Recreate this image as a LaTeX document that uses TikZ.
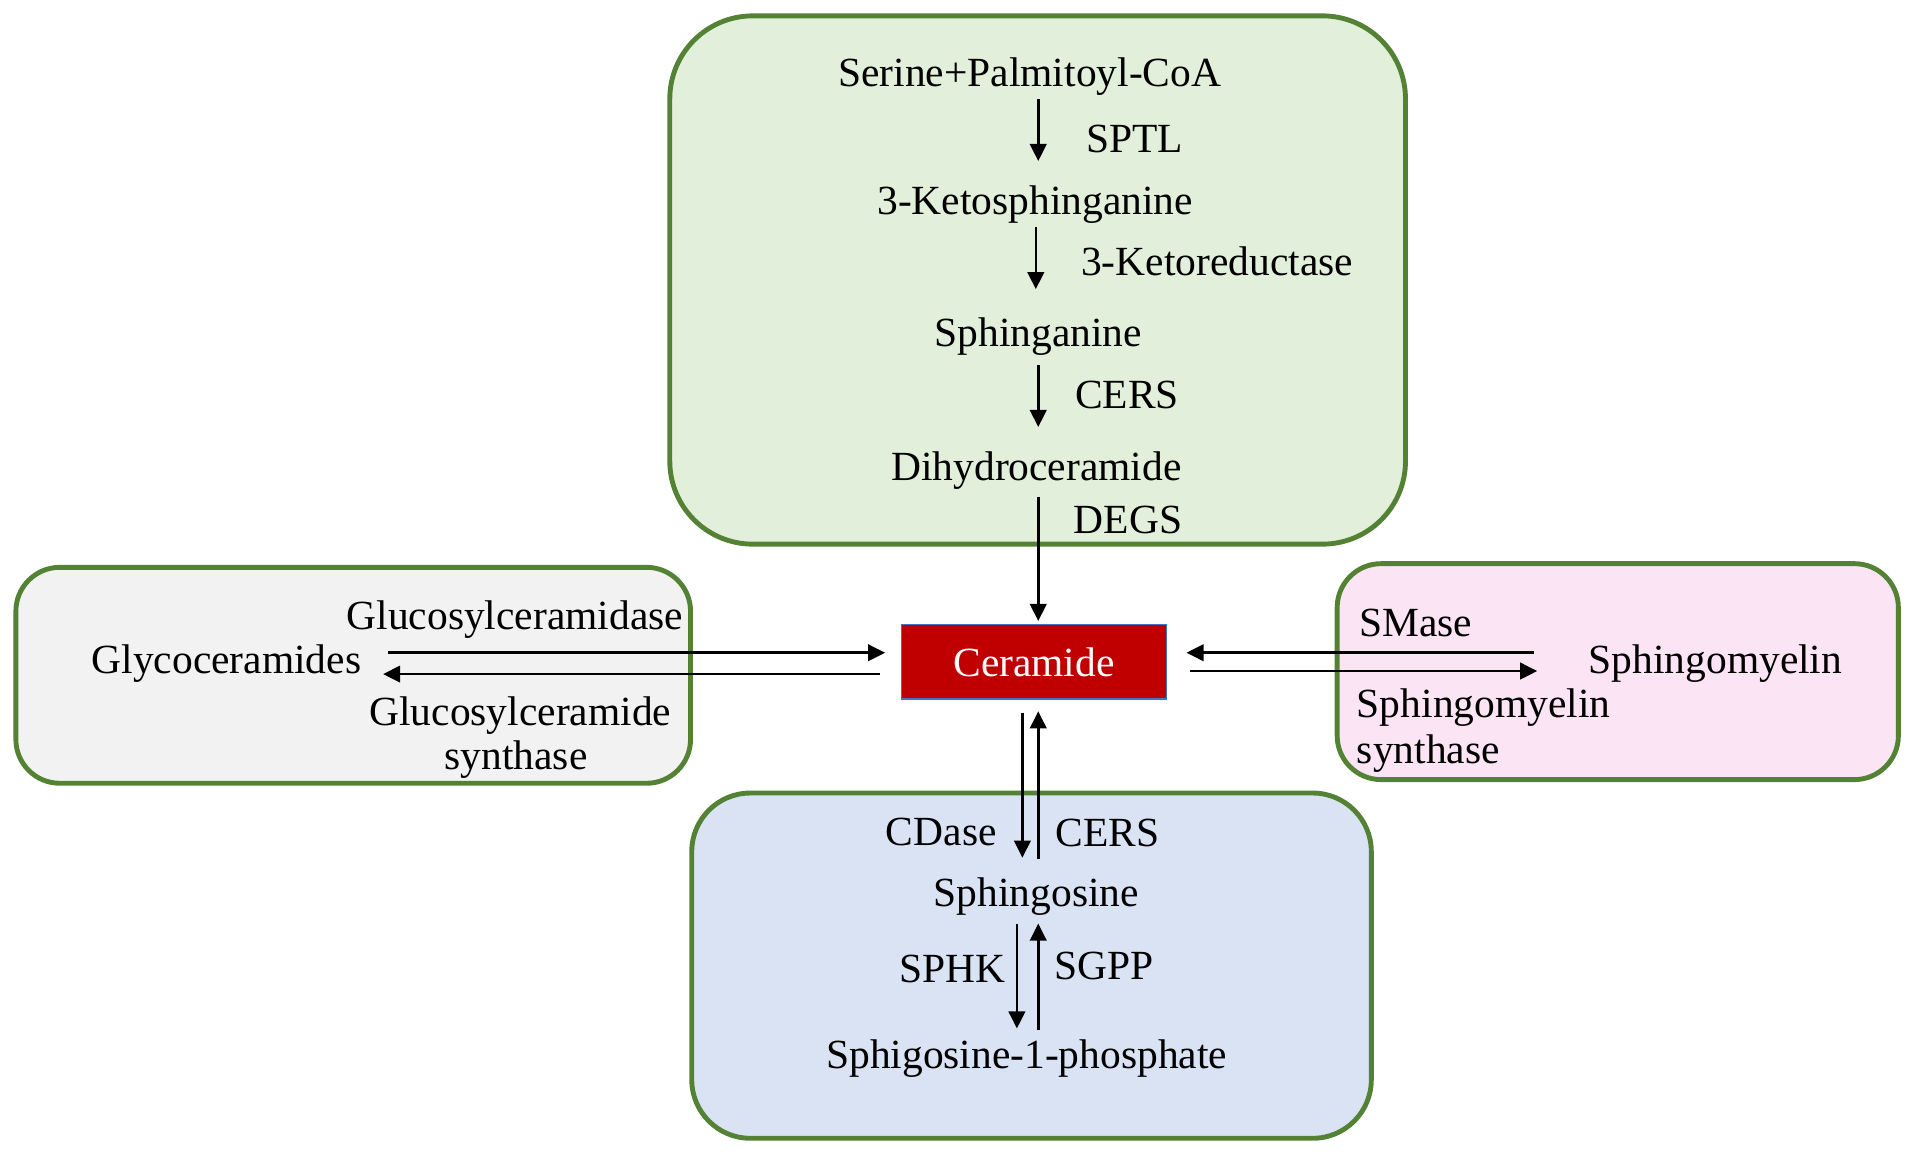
\documentclass[tikz,border=0pt]{standalone}
\usepackage{fontspec}
\setmainfont{Liberation Serif}
\usetikzlibrary{arrows.meta}
\definecolor{bordergreen}{HTML}{548235}
\definecolor{topfill}{HTML}{E2EFDA}
\definecolor{leftfill}{HTML}{F2F2F2}
\definecolor{rightfill}{HTML}{FBE4F3}
\definecolor{botfill}{HTML}{DAE3F3}
\definecolor{cerred}{HTML}{C00000}
\definecolor{cerborder}{HTML}{4472C4}
\begin{document}
\begin{tikzpicture}[x=1pt,y=-1pt,
  lbl/.style={inner sep=0pt, font=\fontsize{34}{36}\selectfont},
  arr/.style={line width=2.1pt, -{Triangle[length=14pt,width=13.5pt]}},
  grp/.style={line width=4pt, draw=bordergreen}]
\useasboundingbox (0,0) rectangle (1568,946);
% group boxes
\draw[grp, fill=topfill, rounded corners=68pt] (549,13) rectangle (1152,446);
\draw[grp, fill=leftfill, rounded corners=36pt] (13,465) rectangle (566,642);
\draw[grp, fill=rightfill, rounded corners=36pt] (1096,462) rectangle (1556,639);
\draw[grp, fill=botfill, rounded corners=48pt] (567,650) rectangle (1124,933);
% ceramide
\node[lbl, draw=cerborder, fill=cerred, line width=1.2pt, minimum width=217pt,
      minimum height=61pt, text=white] (cer) at (847.5,542.5) {Ceramide};
% top chain
\node[lbl, anchor=base] (serine) at (844,70.5) {Serine+Palmitoyl-CoA};
\node[lbl, anchor=base west] (sptl) at (890,125) {SPTL};
\node[lbl, anchor=base] (keto) at (848.5,176) {3-Ketosphinganine};
\node[lbl, anchor=base west] (ketored) at (886,226) {3-Ketoreductase};
\node[lbl, anchor=base] (sphinganine) at (851,284) {Sphinganine};
\node[lbl, anchor=base west] (cers1) at (881,335) {CERS};
\node[lbl, anchor=base] (dhc) at (849.5,393.5) {Dihydroceramide};
\node[lbl, anchor=base west] (degs) at (880,437) {DEGS};
% left
\node[lbl, anchor=base east] (gcase) at (560,516) {Glucosylceramidase};
\node[lbl, anchor=base west] (glyco) at (75,552) {Glycoceramides};
\node[lbl, anchor=base] (gcs1) at (426.5,595) {Glucosylceramide};
\node[lbl, anchor=base] (gcs2) at (423,631) {synthase};
% right
\node[lbl, anchor=base west] (smase) at (1114,522) {SMase};
\node[lbl, anchor=base west] (sm) at (1302,552) {Sphingomyelin};
\node[lbl, anchor=base west] (sms1) at (1112,588) {Sphingomyelin};
\node[lbl, anchor=base west] (sms2) at (1112,626) {synthase};
% bottom
\node[lbl, anchor=base west] (cdase) at (726,692.6) {CDase};
\node[lbl, anchor=base west] (cers2) at (865,694) {CERS};
\node[lbl, anchor=base] (sphingosine) at (849.5,743) {Sphingosine};
\node[lbl, anchor=base west] (sphk) at (737,805) {SPHK};
\node[lbl, anchor=base west] (sgpp) at (864,803) {SGPP};
\node[lbl, anchor=base west] (s1p) at (677,875.6) {Sphigosine-1-phosphate};
% connector end points
\coordinate (a1s) at (851,81);   \coordinate (a1e) at (851,132);
\coordinate (a2s) at (849,186);  \coordinate (a2e) at (849,237);
\coordinate (a3s) at (851,299);  \coordinate (a3e) at (851,350);
\coordinate (a4s) at (851,407);  \coordinate (a4e) at (851,509);
\coordinate (l1s) at (318,535);  \coordinate (l1e) at (725.5,535);
\coordinate (l2s) at (721,552.5);\coordinate (l2e) at (314,552.5);
\coordinate (r1s) at (1257,535); \coordinate (r1e) at (972.5,535);
\coordinate (r2s) at (975.5,550);\coordinate (r2e) at (1260,550);
\coordinate (b1s) at (838,584);  \coordinate (b1e) at (838,703);
\coordinate (b2s) at (851,704);  \coordinate (b2e) at (851,583);
\coordinate (c1s) at (833.5,757);\coordinate (c1e) at (833.5,843);
\coordinate (c2s) at (851,844);  \coordinate (c2e) at (851,757);
% connectors
\draw[arr] (a1s) -- (a1e);
\draw[arr] (a2s) -- (a2e);
\draw[arr] (a3s) -- (a3e);
\draw[arr] (a4s) -- (a4e);
\draw[arr] (l1s) -- (l1e);
\draw[arr] (l2s) -- (l2e);
\draw[arr] (r1s) -- (r1e);
\draw[arr] (r2s) -- (r2e);
\draw[arr] (b1s) -- (b1e);
\draw[arr] (b2s) -- (b2e);
\draw[arr] (c1s) -- (c1e);
\draw[arr] (c2s) -- (c2e);
\end{tikzpicture}
\end{document}
